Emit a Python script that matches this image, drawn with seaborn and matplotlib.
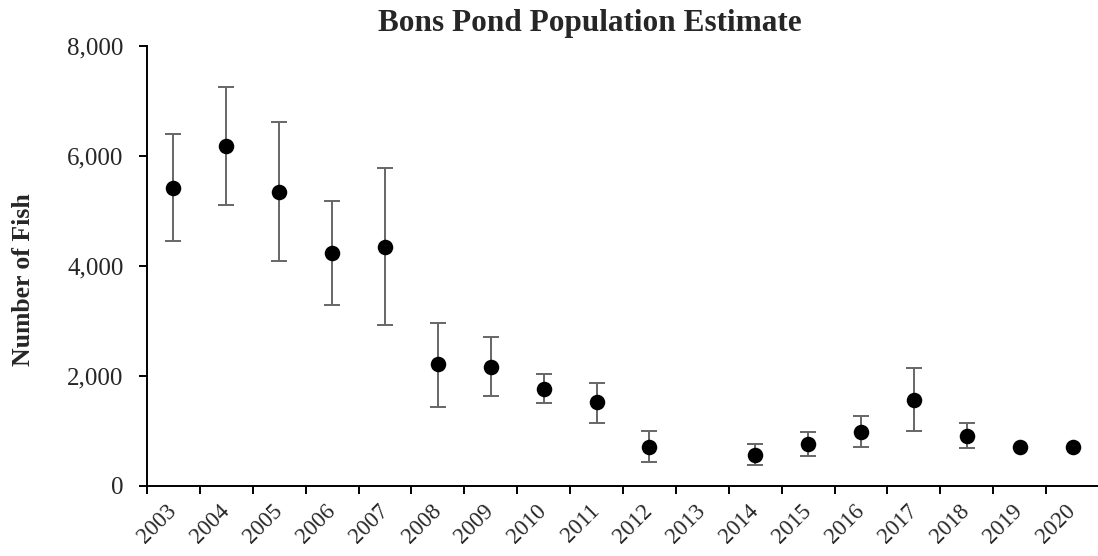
import numpy as np
import pandas as pd
import matplotlib
matplotlib.use('Agg')
import matplotlib.pyplot as plt
import seaborn as sns
from matplotlib.ticker import FuncFormatter

years = ['2003', '2004', '2005', '2006', '2007', '2008', '2009', '2010', '2011',
         '2012', '2013', '2014', '2015', '2016', '2017', '2018', '2019', '2020']
estimate = [5420, 6180, 5340, 4240, 4350, 2210, 2170, 1765, 1520,
            715, np.nan, 570, 770, 990, 1570, 910, 700, 715]
lower = [4460, 5100, 4080, 3290, 2930, 1440, 1630, 1500, 1150,
         440, np.nan, 380, 550, 700, 995, 690, np.nan, np.nan]
upper = [6390, 7255, 6610, 5180, 5775, 2965, 2715, 2030, 1880,
         995, np.nan, 760, 990, 1265, 2150, 1140, np.nan, np.nan]

df = pd.DataFrame({'year': years, 'pos': np.arange(len(years)),
                   'estimate': estimate, 'lower': lower, 'upper': upper})

sns.set_style('ticks')
plt.rcParams['font.family'] = ['Liberation Serif', 'DejaVu Serif']

fig = plt.figure(figsize=(10.98, 5.56), dpi=100)
ax = fig.add_axes([147 / 1098, 1 - 486 / 556, (1099 - 147) / 1098, (486 - 45.7) / 556])

# error bars first so the dots sit on top
err = df.dropna(subset=['lower'])
ax.errorbar(err['pos'], err['estimate'],
            yerr=[err['estimate'] - err['lower'], err['upper'] - err['estimate']],
            fmt='none', ecolor='#666666', elinewidth=1.4, capsize=5.5, capthick=1.4, zorder=2)
sns.scatterplot(data=df, x='pos', y='estimate', color='black', s=125,
                edgecolor='black', linewidth=0, zorder=3, ax=ax, legend=False)

ax.set_xlim(-0.5, len(years) - 0.5)
ax.set_ylim(0, 8000)
ax.set_yticks([0, 2000, 4000, 6000, 8000])
ax.yaxis.set_major_formatter(FuncFormatter(lambda v, p: f'{v:,.0f}'))
ax.set_xticks(df['pos'])
ax.set_xticklabels(years, rotation=45, ha='right', va='center', rotation_mode='anchor')
ax.set_xticks(np.arange(-0.5, len(years)), minor=True)
ax.tick_params(axis='x', which='major', length=0, pad=16, labelsize=16.5)
ax.tick_params(axis='x', which='minor', length=6, width=1.4, color='black', direction='out')
ax.tick_params(axis='y', length=6, width=1.4, color='black', direction='out', pad=11, labelsize=18)

ax.set_xlabel('')
ax.set_ylabel('')
for side in ['top', 'right']:
    ax.spines[side].set_visible(False)
for side in ['left', 'bottom']:
    ax.spines[side].set_linewidth(1.4)
    ax.spines[side].set_color('black')

fig.text(24 / 1098, 1 - 280 / 556, 'Number of Fish', rotation=90,
         ha='center', va='center', fontsize=18.5, fontweight='bold')
fig.text(590 / 1098, 1 - 24 / 556, 'Bons Pond Population Estimate',
         ha='center', va='center', fontsize=22.5, fontweight='bold')

fig.savefig('out.png', dpi=100)
